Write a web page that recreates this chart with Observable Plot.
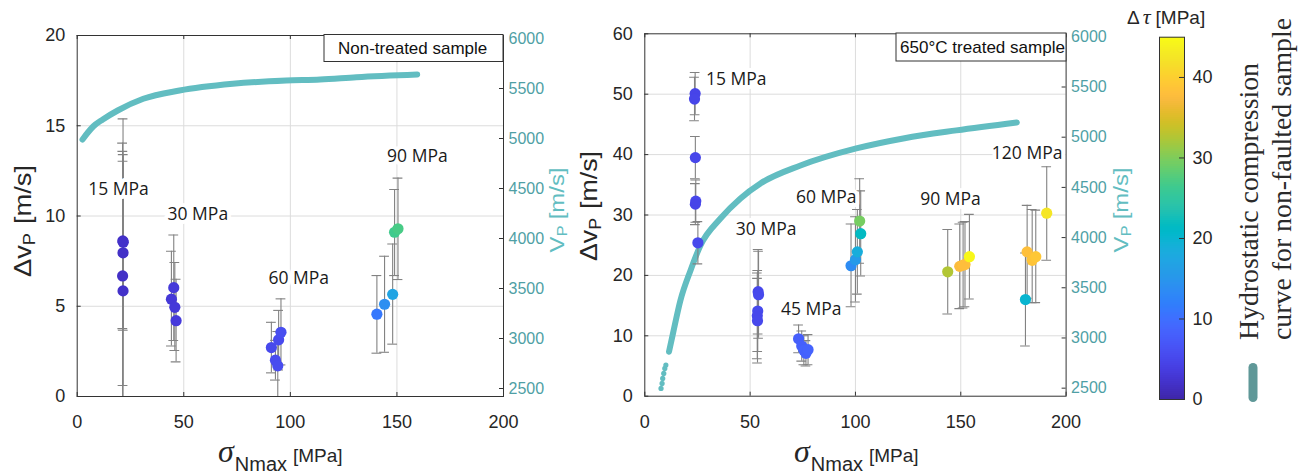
<!DOCTYPE html>
<html>
<head>
<meta charset="utf-8">
<script src="https://cdn.jsdelivr.net/npm/d3@7"></script>
<script src="https://cdn.jsdelivr.net/npm/@observablehq/plot@0.6"></script>
<style>
  body { margin: 0; background: #fff; }
  #wrap { position: relative; width: 1301px; height: 475px; overflow: hidden; background: #fff; }
  #wrap > svg { position: absolute; }
</style>
</head>
<body>
<div id="wrap"></div>
<script>
// ---------------- data ----------------
const xTicks = [0, 50, 100, 150, 200];
const leftYTicks = [0, 5, 10, 15, 20];
const rightYTicks = [0, 10, 20, 30, 40, 50, 60];
const vpTicks = [2500, 3000, 3500, 4000, 4500, 5000, 5500, 6000];
const vpDomain = [2420, 6030];
const tauTicks = [0, 10, 20, 30, 40];
const tauDomain = [0, 45];

// Non-treated sample
const nonX   = [21.4, 21.6, 21.5, 21.3, 21.5, 44.2, 45.3, 45.8, 46.4, 91.1, 93.0, 94.1, 94.5, 95.6, 140.6, 144.2, 148.0, 148.9, 150.5];
const nonDv  = [8.62, 8.55, 7.96, 6.68, 5.85, 5.39, 6.03, 4.94, 4.20, 2.71, 2.01, 1.70, 3.14, 3.56, 4.56, 5.11, 5.66, 9.10, 9.29];
const nonLo  = [3.76, 3.67, 0.61, -0.68, -1.30, 2.80, 3.10, 2.55, 1.92, 1.31, 0.91, -0.20, 1.47, 1.75, 2.40, 2.45, 2.90, 6.70, 6.48];
const nonHi  = [13.58, 13.40, 15.38, 14.04, 13.03, 8.05, 8.95, 7.42, 6.50, 4.11, 3.11, 3.60, 4.77, 5.41, 6.70, 7.77, 8.45, 11.47, 12.10];
const nonTau = [1.8, 2.0, 1.9, 1.8, 2.0, 3.0, 3.2, 3.1, 3.3, 5.2, 5.5, 5.6, 5.4, 5.8, 11, 14, 17, 26.5, 27];
const nonLabelText = ["15 MPa", "30 MPa", "60 MPa", "90 MPa"];
const nonLabelX = [19.4, 56.6, 103.9, 159.6];
const nonLabelY = [11.47, 10.1, 6.53, 13.33];
const nonCurveX  = [2.5, 5, 7.5, 12, 19, 31, 48, 73, 98, 114, 131, 159.5];
const nonCurveVp = [4990, 5060, 5120, 5190, 5280, 5397, 5480, 5547, 5580, 5590, 5613, 5640];

// 650°C treated sample
const trX   = [23.9, 23.6, 24.0, 24.2, 24.0, 25.2, 53.8, 54.0, 53.6, 53.4, 53.5, 73.0, 74.5, 75.5, 76.5, 77.5, 97.9, 100.0, 100.9, 102.5, 102.0, 143.8, 149.5, 151.1, 152.0, 154.1, 181.5, 180.7, 183.9, 185.6, 190.8];
const trDv  = [50.1, 49.2, 39.5, 32.3, 31.8, 25.4, 17.3, 16.8, 14.1, 13.3, 12.5, 9.5, 8.3, 7.6, 7.1, 7.7, 21.6, 22.6, 23.9, 26.9, 29.0, 20.6, 21.5, 21.7, 21.8, 23.1, 23.9, 16.0, 22.5, 23.1, 30.3];
const trLo  = [46.6, 45.6, 36.0, 28.8, 28.4, 21.9, 10.3, 9.6, 7.4, 6.2, 5.5, 7.2, 5.8, 5.2, 5.0, 5.2, 14.8, 15.6, 16.9, 19.9, 22.0, 13.6, 14.5, 14.6, 14.8, 16.1, 16.2, 8.3, 15.5, 15.5, 22.5];
const trHi  = [53.6, 52.8, 43.0, 35.8, 35.2, 28.9, 24.3, 24.0, 20.8, 20.4, 19.5, 11.8, 10.8, 10.0, 9.2, 10.2, 28.5, 29.7, 30.9, 34.0, 36.0, 27.6, 28.5, 28.8, 28.9, 30.1, 31.6, 23.7, 30.9, 30.8, 38.0];
const trTau = [4.6, 4.8, 4.9, 5.0, 4.7, 5.2, 5.0, 5.2, 5.3, 5.0, 5.1, 8.0, 8.2, 8.5, 8.3, 8.6, 13.5, 15.5, 18.5, 21.5, 29.5, 32.5, 37.5, 38.0, 37.8, 44.5, 38.0, 20.0, 38.5, 39.0, 42.5];
const trLabelText = ["15 MPa", "30 MPa", "45 MPa", "60 MPa", "90 MPa", "120 MPa"];
const trLabelX = [43.4, 57.6, 79.0, 86.1, 145.1, 181.5];
const trLabelY = [52.5, 27.7, 14.4, 32.9, 32.6, 40.2];
const trCurveX  = [11.5, 13.4, 16.9, 21.7, 26.4, 35.9, 45.4, 54.9, 73.9, 100.4, 123.3, 147.9, 176.6];
const trCurveVp = [2863, 3047, 3374, 3673, 3922, 4190, 4390, 4539, 4718, 4888, 4990, 5068, 5147];
const trCurveDotX  = [7.7, 8.2, 8.5, 9.0, 9.5, 10.0];
const trCurveDotVp = [2497, 2547, 2597, 2647, 2697, 2730];

// MATLAB parula colormap
const parulaRGB = [[0.2422,0.1504,0.6603],[0.2504,0.1650,0.7076],[0.2578,0.1818,0.7511],[0.2647,0.1978,0.7952],[0.2706,0.2147,0.8364],[0.2751,0.2342,0.8710],[0.2783,0.2559,0.8991],[0.2803,0.2782,0.9221],[0.2813,0.3006,0.9414],[0.2810,0.3228,0.9579],[0.2795,0.3447,0.9717],[0.2760,0.3667,0.9829],[0.2699,0.3892,0.9906],[0.2602,0.4123,0.9952],[0.2440,0.4358,0.9988],[0.2206,0.4603,0.9973],[0.1963,0.4847,0.9892],[0.1834,0.5074,0.9798],[0.1786,0.5289,0.9682],[0.1764,0.5499,0.9520],[0.1687,0.5703,0.9359],[0.1540,0.5902,0.9218],[0.1460,0.6091,0.9079],[0.1380,0.6276,0.8973],[0.1248,0.6459,0.8883],[0.1113,0.6635,0.8763],[0.0952,0.6798,0.8598],[0.0689,0.6948,0.8394],[0.0297,0.7082,0.8163],[0.0036,0.7203,0.7917],[0.0067,0.7312,0.7660],[0.0433,0.7411,0.7394],[0.0964,0.7500,0.7120],[0.1408,0.7584,0.6842],[0.1717,0.7670,0.6554],[0.1938,0.7758,0.6251],[0.2161,0.7843,0.5923],[0.2470,0.7918,0.5567],[0.2906,0.7973,0.5188],[0.3406,0.8008,0.4789],[0.3909,0.8029,0.4354],[0.4456,0.8024,0.3909],[0.5044,0.7993,0.3480],[0.5616,0.7942,0.3045],[0.6174,0.7876,0.2612],[0.6720,0.7793,0.2227],[0.7242,0.7698,0.1910],[0.7738,0.7598,0.1646],[0.8203,0.7498,0.1535],[0.8634,0.7406,0.1596],[0.9035,0.7330,0.1774],[0.9393,0.7288,0.2100],[0.9728,0.7298,0.2394],[0.9956,0.7434,0.2371],[0.9970,0.7659,0.2199],[0.9952,0.7893,0.2028],[0.9892,0.8136,0.1885],[0.9786,0.8386,0.1766],[0.9676,0.8639,0.1643],[0.9610,0.8890,0.1537],[0.9597,0.9135,0.1423],[0.9628,0.9373,0.1265],[0.9691,0.9606,0.1064],[0.9769,0.9839,0.0805]];

// ---------------- styles ----------------
const teal = "#62bdc1";
const tealText = "#4f9fa5";
const gridColor = "#dcdcdc";
const barColor = "#828282";
const frameColor = "#333333";
const textColor = "#262626";
const parulaColors = parulaRGB.map(c => d3.rgb(c[0] * 255, c[1] * 255, c[2] * 255).formatHex());
const parulaPw = d3.piecewise(d3.interpolateRgb, parulaColors);
const parula = (t) => parulaPw(Math.max(0, Math.min(1, t)));

const wrap = document.getElementById("wrap");

function makePanel(c) {
  const H = 475;
  const innerW = c.width - c.mL - c.mR;
  const innerH = H - c.mT - c.mB;
  const toY = d3.scaleLinear().domain(vpDomain).range(c.yDomain);
  const pts = c.xs.map((x, i) => ({x, dv: c.dv[i], lo: c.lo[i], hi: c.hi[i], tau: c.tau[i]}));
  const curve = c.cx.map((x, i) => ({x, y: toY(c.cvp[i])}));
  const cdots = (c.dx || []).map((x, i) => ({x, y: toY(c.dvp[i])}));
  const labels = c.lt.map((t, i) => ({t, x: c.lx[i], y: c.ly[i]}));
  const cap = 2.3;
  const svg = Plot.plot({
    width: c.width, height: H,
    marginLeft: c.mL, marginRight: c.mR, marginTop: c.mT, marginBottom: c.mB,
    x: {domain: [0, 200]},
    y: {domain: c.yDomain},
    color: {type: "linear", domain: tauDomain, interpolate: parula},
    style: {fontFamily: "'Liberation Sans', Arial, sans-serif", fontSize: "18px", color: textColor, background: "transparent", overflow: "visible"},
    marks: [
      Plot.gridX(xTicks.slice(1, -1), {stroke: gridColor, strokeOpacity: 1}),
      Plot.gridY(c.yTicks.slice(1, -1), {stroke: gridColor, strokeOpacity: 1}),
      Plot.line(curve, {x: "x", y: "y", stroke: teal, strokeWidth: 6, curve: "monotone-x", strokeLinecap: "round", clip: true}),
      cdots.length ? Plot.dot(cdots, {x: "x", y: "y", r: 2.6, fill: teal}) : null,
      Plot.ruleX(pts, {x: "x", y1: "lo", y2: "hi", stroke: barColor, strokeWidth: 1.1, clip: true}),
      Plot.ruleY(pts, {y: "hi", x1: d => d.x - cap, x2: d => d.x + cap, stroke: barColor, strokeWidth: 1.1, clip: true}),
      Plot.ruleY(pts, {y: "lo", x1: d => d.x - cap, x2: d => d.x + cap, stroke: barColor, strokeWidth: 1.1, clip: true}),
      Plot.text(labels, {x: "x", y: "y", text: "t", fontFamily: "'Open Sans', sans-serif", fontSize: 17.5, fill: "#1a1a1a", stroke: "white", strokeWidth: 8, paintOrder: "stroke", textAnchor: "middle"}),
      Plot.dot(pts, {x: "x", y: "dv", r: 5.6, fill: "tau"}),
      // inward tick marks (MATLAB style)
      Plot.tickY(c.yTicks, {y: d => d, insetRight: innerW - 4, stroke: frameColor}),
      Plot.tickY(vpTicks.map(v => toY(v)), {y: d => d, insetLeft: innerW - 4, stroke: frameColor}),
      Plot.tickX(xTicks, {x: d => d, insetTop: innerH - 4, stroke: frameColor}),
      Plot.tickX(xTicks, {x: d => d, insetBottom: innerH - 4, stroke: frameColor}),
      Plot.axisX({ticks: xTicks, tickSize: 0, tickPadding: 19, label: null, fill: textColor}),
      Plot.axisY({ticks: c.yTicks, tickSize: 0, tickPadding: 12, label: null, fill: textColor}),
      Plot.axisY({anchor: "right", ticks: vpTicks.map(v => toY(v)), tickFormat: d => String(Math.round(toY.invert(d))),
                  tickSize: 0, tickPadding: 5, label: null, fill: tealText, fontSize: 16}),
      Plot.frame({stroke: frameColor})
    ]
  });
  svg.style.left = c.left + "px";
  svg.style.top = "0px";
  wrap.appendChild(svg);
}

makePanel({
  left: 0, width: 560, mL: 76.7, mR: 57, mT: 35, mB: 79,
  yDomain: [0, 20], yTicks: leftYTicks,
  xs: nonX, dv: nonDv, lo: nonLo, hi: nonHi, tau: nonTau,
  lt: nonLabelText, lx: nonLabelX, ly: nonLabelY,
  cx: nonCurveX, cvp: nonCurveVp
});

makePanel({
  left: 560, width: 560, mL: 84.3, mR: 54.4, mT: 33.3, mB: 79.3,
  yDomain: [0, 60], yTicks: rightYTicks,
  xs: trX, dv: trDv, lo: trLo, hi: trHi, tau: trTau,
  lt: trLabelText, lx: trLabelX, ly: trLabelY,
  cx: trCurveX, cvp: trCurveVp, dx: trCurveDotX, dvp: trCurveDotVp
});

// ---------------- colorbar ----------------
const cbStep = 0.25;
const cbBins = d3.range(tauDomain[0], tauDomain[1], cbStep);
const cb = Plot.plot({
  width: 80, height: 475, marginLeft: 9, marginRight: 46, marginTop: 36.7, marginBottom: 76,
  x: {domain: [0, 1], axis: null},
  y: {domain: tauDomain, axis: null},
  color: {type: "linear", domain: tauDomain, interpolate: parula},
  style: {fontFamily: "'Liberation Sans', Arial, sans-serif", fontSize: "18px", color: textColor, background: "transparent", overflow: "visible"},
  marks: [
    Plot.rect(cbBins, {x1: 0, x2: 1, y1: d => d, y2: d => d + cbStep + 0.02, fill: d => d + cbStep / 2, shapeRendering: "crispEdges"}),
    Plot.tickY(tauTicks, {y: d => d, insetLeft: 20, stroke: frameColor}),
    Plot.axisY({anchor: "right", ticks: tauTicks, tickSize: 0, tickPadding: 8, label: null, fill: textColor}),
    Plot.frame({stroke: frameColor})
  ]
});
cb.style.left = "1150px";
cb.style.top = "0px";
wrap.appendChild(cb);

// ---------------- overlay: axis titles, boxes, legend ----------------
const ns = "http://www.w3.org/2000/svg";
const ov = document.createElementNS(ns, "svg");
ov.setAttribute("width", 1301);
ov.setAttribute("height", 475);
ov.style.left = "0px"; ov.style.top = "0px";
const sans = "'Liberation Sans', Arial, sans-serif";
const serif = "'Liberation Serif', 'Times New Roman', serif";
function yLabel(x, y, len) {
  return `<text transform="translate(${x},${y}) rotate(-90)" text-anchor="middle" font-family="${sans}" font-size="24" fill="${textColor}" textLength="${len}" lengthAdjust="spacingAndGlyphs">Δv<tspan font-size="16" dy="4">P</tspan><tspan dy="-4" dx="8">[m/s]</tspan></text>`;
}
function vpLabel(x, y, len) {
  return `<text transform="translate(${x},${y}) rotate(-90)" text-anchor="middle" font-family="${sans}" font-size="20" fill="${teal}" textLength="${len}" lengthAdjust="spacingAndGlyphs">V<tspan font-size="14" dy="3">P</tspan><tspan dy="-3" dx="5">[m/s]</tspan></text>`;
}
function xLabel(x) {
  return `<text x="${x}" y="462" fill="${textColor}"><tspan font-family="${serif}" font-style="italic" font-size="32">σ</tspan><tspan font-family="${sans}" font-size="20" dy="9" dx="1">Nmax</tspan><tspan font-family="${sans}" font-size="19" dy="-9" dx="6">[MPa]</tspan></text>`;
}
ov.innerHTML =
  yLabel(31, 221, 112) + yLabel(597, 206, 110) +
  vpLabel(564, 210, 85) + vpLabel(1128, 210, 85) +
  xLabel(218) + xLabel(794) +
  `<rect x="324" y="34.5" width="179" height="27" fill="white" stroke="${frameColor}" stroke-width="1"/>` +
  `<text x="338" y="53.5" font-family="${sans}" font-size="17" fill="#111">Non-treated sample</text>` +
  `<rect x="896" y="33" width="170" height="28" fill="white" stroke="${frameColor}" stroke-width="1"/>` +
  `<text x="900" y="53" font-family="${sans}" font-size="17" fill="#111" textLength="165" lengthAdjust="spacingAndGlyphs">650°C treated sample</text>` +
  `<text x="1127" y="24" fill="${textColor}"><tspan font-family="${sans}" font-size="19">Δ</tspan><tspan font-family="${serif}" font-style="italic" font-size="22" dx="3">τ</tspan><tspan font-family="${sans}" font-size="19" dx="5">[MPa]</tspan></text>` +
  `<text transform="translate(1258,340) rotate(-90)" font-family="${serif}" font-size="28" fill="#2a2a2a" textLength="277" lengthAdjust="spacingAndGlyphs">Hydrostatic compression</text>` +
  `<text transform="translate(1291,340) rotate(-90)" font-family="${serif}" font-size="28" fill="#2a2a2a" textLength="322" lengthAdjust="spacingAndGlyphs">curve for non-faulted sample</text>` +
  `<line x1="1253" y1="367.5" x2="1253" y2="397.5" stroke="#5f9898" stroke-width="9" stroke-linecap="round"/>`;
wrap.appendChild(ov);
</script>
</body>
</html>
